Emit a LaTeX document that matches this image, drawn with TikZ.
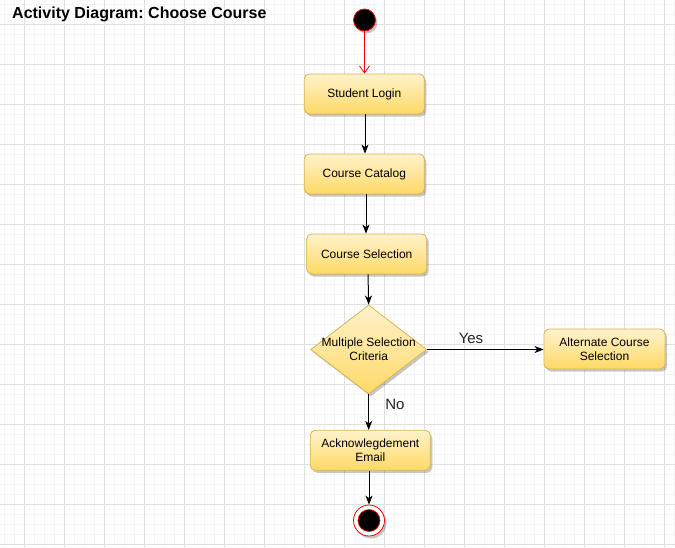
\documentclass[tikz,border=0pt]{standalone}
\usepackage{fontspec}
\setmainfont{Liberation Sans}
\frenchspacing
\usetikzlibrary{arrows.meta,shapes.geometric,shadows}
\definecolor{gridminor}{HTML}{F5F5F5}
\definecolor{gridmajor}{HTML}{E0E0E0}
\definecolor{fillTop}{HTML}{FFF2CC}
\definecolor{fillBot}{HTML}{FFD966}
\definecolor{strokeY}{HTML}{D6B656}
\tikzset{
  shadowed/.style={drop shadow={shadow xshift=2pt, shadow yshift=-2.5pt, opacity=0.22, fill=black}},
  actbox/.style={rectangle, rounded corners=5pt, draw=strokeY, line width=0.8pt,
    top color=fillTop, bottom color=fillBot, minimum width=120pt, minimum height=40pt,
    inner sep=0pt, align=center, font=\fontsize{12}{14}\selectfont, shadowed},
  decision/.style={diamond, draw=strokeY, line width=0.8pt, top color=fillTop, bottom color=fillBot,
    minimum width=116pt, minimum height=89pt, inner sep=0pt, shadowed},
  lbl/.style={font=\fontsize{12}{14}\selectfont, align=center},
  edgelbl/.style={font=\fontsize{15}{17}\selectfont, text=black!85},
  arr/.style={draw=black, line width=1pt, -{Stealth[length=9pt,width=7pt,inset=2.5pt]}},
  redarr/.style={draw=red, line width=0.8pt, -{Straight Barb[length=7pt,width=10pt]}},
}
\begin{document}
\begin{tikzpicture}[x=1pt,y=-1pt]
\useasboundingbox (0,0) rectangle (675,547);
\fill[white] (0,0) rectangle (675,547);
% grid
\foreach \g in {4,14,...,674} {\draw[gridminor,line width=0.8pt] (\g,0) -- (\g,547);}
\foreach \g in {4,14,...,544} {\draw[gridminor,line width=0.8pt] (0,\g) -- (675,\g);}
\foreach \g in {24,64,...,664} {\draw[gridmajor,line width=0.8pt] (\g,0) -- (\g,547);}
\foreach \g in {24,64,...,544} {\draw[gridmajor,line width=0.8pt] (0,\g) -- (675,\g);}

% title
\node[anchor=west, inner sep=0pt, font=\fontsize{16}{19}\bfseries] (title) at (12,14.5) {Activity Diagram: Choose Course};

% initial node
\node[circle, fill=black, draw=red, line width=0.8pt, minimum size=22pt, inner sep=0pt, shadowed] (init) at (364.5,20) {};

% activities
\node[actbox] (login) at (364.3,94) {Student Login};
\node[actbox] (catalog) at (364.3,174) {Course Catalog};
\node[actbox] (select) at (366.7,254) {Course Selection};
\node[decision] (crit) at (368.7,349.5) {};
\node[lbl] (critlbl) at (368.7,349) {Multiple Selection\\Criteria};
\node[actbox, minimum width=121pt] (alt) at (604.5,349) {Alternate Course\\Selection};
\node[actbox] (ack) at (370.3,450.3) {Acknowlegdement\\Email};

% final node
\node[circle, draw=red, fill=white, line width=0.8pt, minimum size=31pt, inner sep=0pt, shadowed] (final) at (369,520.5) {};
\node[circle, draw=red, fill=black, line width=0.6pt, minimum size=22pt, inner sep=0pt] (finalin) at (final) {};

% helper columns for vertical connectors
\coordinate (c1) at (365,0);
\coordinate (c2) at (366,0);
\coordinate (c3) at (368,0);
\coordinate (c4) at (369,0);

% connectors
\draw[redarr] (init.south) -- (init.south |- login.north);
\draw[arr] (c1 |- login.south) -- (c1 |- catalog.north);
\draw[arr] (c2 |- catalog.south) -- (c2 |- select.north);
\draw[arr] (c3 |- select.south) -- (crit.north);
\draw[arr] (crit.east) -- (alt.west |- crit.east);
\draw[arr] (crit.south) -- (crit.south |- ack.north);
\draw[arr] (c4 |- ack.south) -- (final.north);

% edge labels
\node[edgelbl] (yes) at (471,338) {Yes};
\node[edgelbl] (no) at (395,404.5) {No};
\end{tikzpicture}
\end{document}
